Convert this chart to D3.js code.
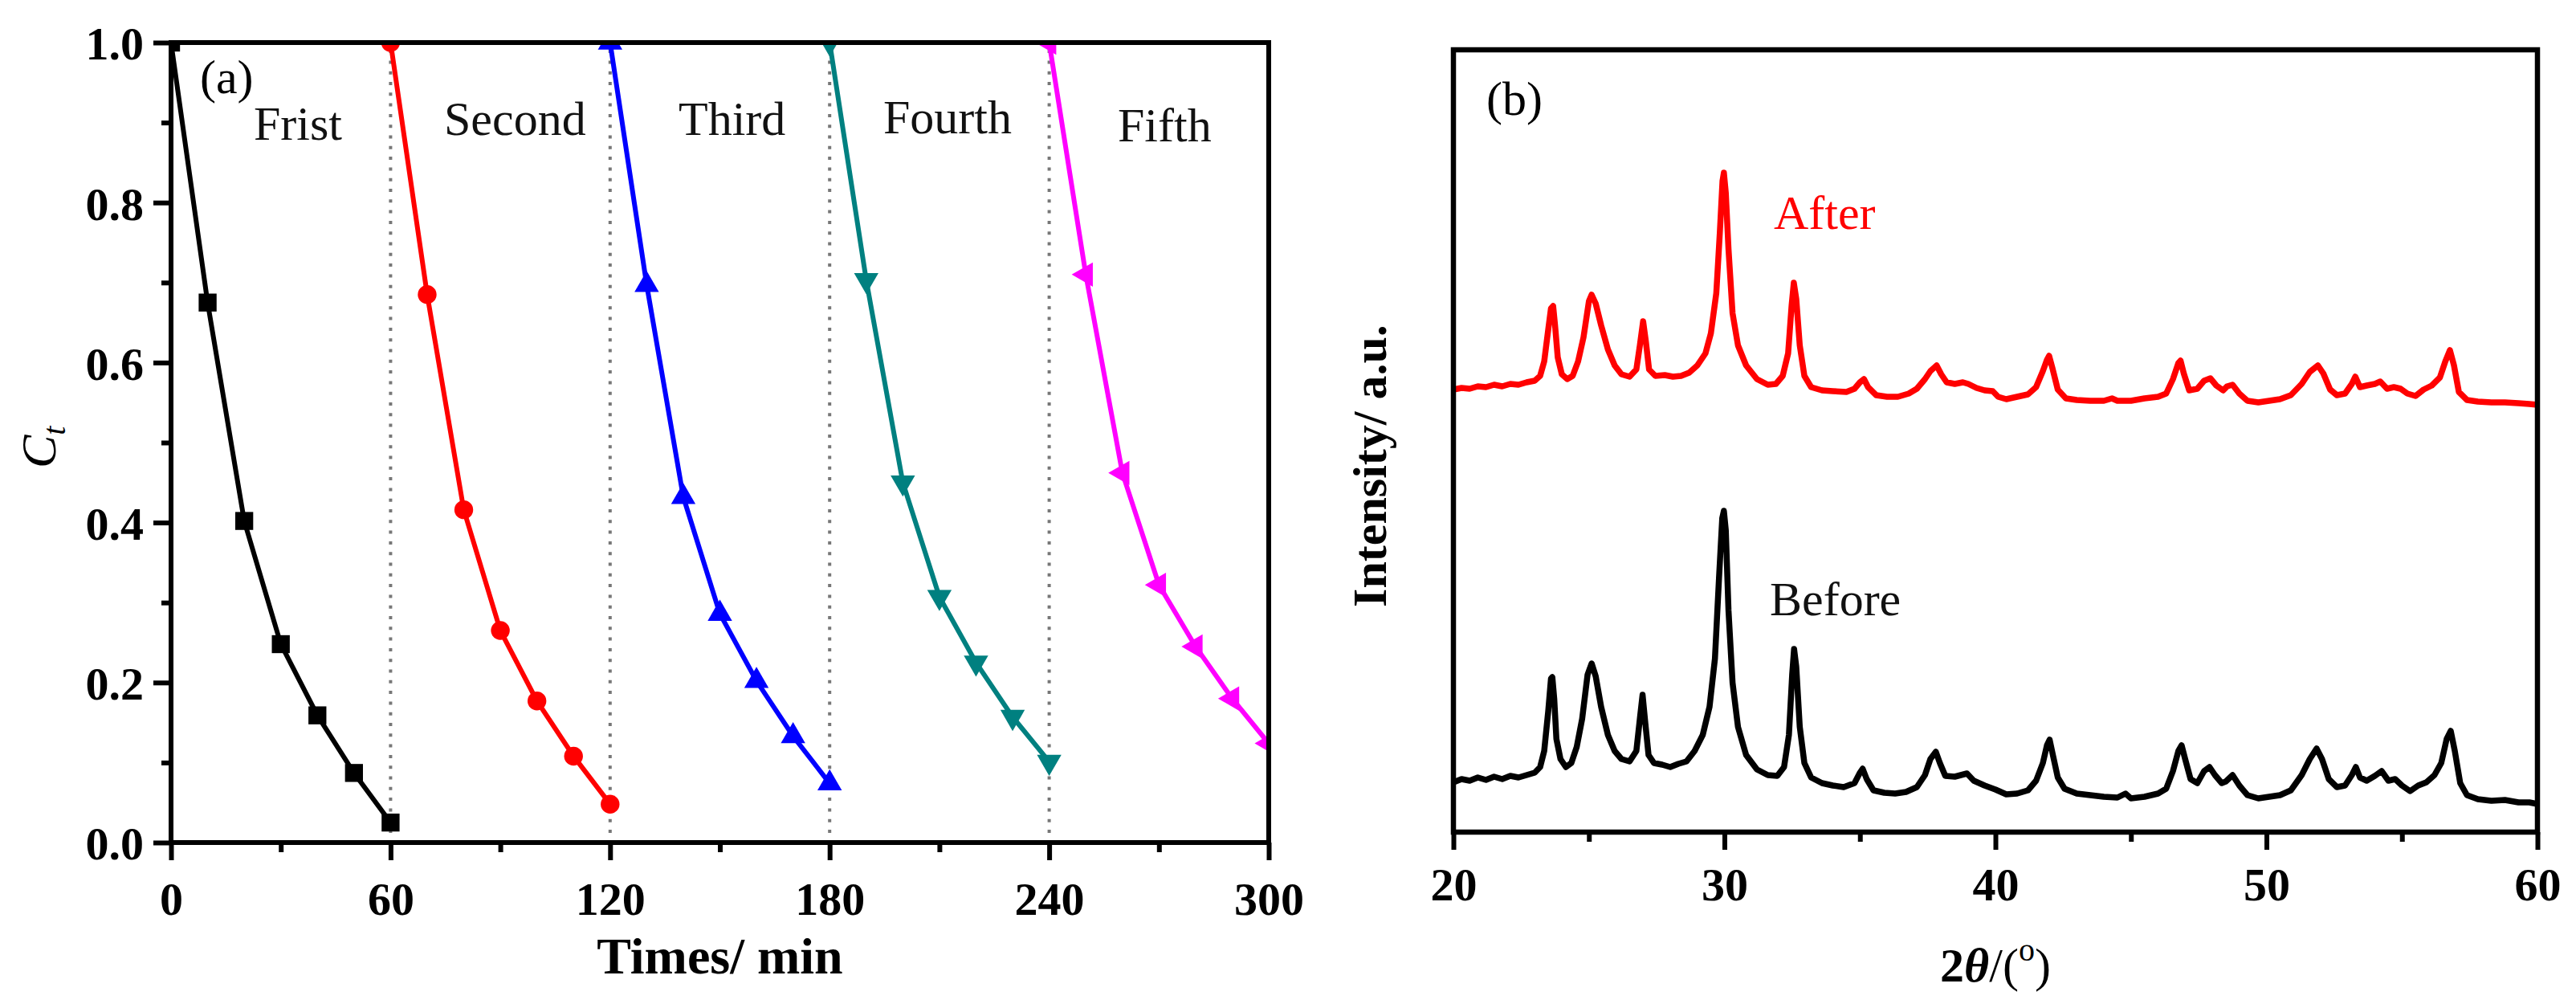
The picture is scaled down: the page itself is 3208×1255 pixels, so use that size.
<!DOCTYPE html>
<html>
<head>
<meta charset="utf-8">
<script src="https://cdn.jsdelivr.net/npm/d3@7"></script>
<style>
  body { margin: 0; background: #fff; }
  text { font-family: "Times New Roman", "Liberation Serif", serif; }
</style>
</head>
<body>
<script>
// (a) five photocatalytic cycles, Ct vs time
var time1 = [0, 10, 20, 30, 40, 50, 60];
var time2 = [60, 70, 80, 90, 100, 110, 120];
var time3 = [120, 130, 140, 150, 160, 170, 180];
var time4 = [180, 190, 200, 210, 220, 230, 240];
var time5 = [240, 250, 260, 270, 280, 290, 300];

var first  = [1.0, 0.675, 0.402, 0.248, 0.159, 0.087, 0.025];
var second = [1.0, 0.685, 0.416, 0.265, 0.177, 0.108, 0.048];
var third  = [1.0, 0.697, 0.432, 0.286, 0.202, 0.133, 0.074];
var fourth = [1.0, 0.703, 0.450, 0.307, 0.225, 0.157, 0.101];
var fifth  = [1.0, 0.710, 0.462, 0.322, 0.245, 0.180, 0.124];

var runNames = ["Frist", "Second", "Third", "Fourth", "Fifth"];
var runBreaks = [60, 120, 180, 240];

var xTicksA = [0, 60, 120, 180, 240, 300];
var xMinorA = [30, 90, 150, 210, 270];
var yTicksA = [0.0, 0.2, 0.4, 0.6, 0.8, 1.0];
var yMinorA = [0.1, 0.3, 0.5, 0.7, 0.9];

// (b) XRD before / after, [2theta, intensity a.u.]
var beforeXRD = [
  [20.0,62],[20.3,66],[20.6,64],[20.9,68],[21.2,65],[21.5,69],[21.8,66],[22.1,70],[22.4,68],[22.7,71],
  [23.0,74],[23.2,81],[23.35,101],[23.5,151],[23.6,191],[23.65,193],[23.72,166],[23.8,116],[23.95,91],[24.15,81],
  [24.35,86],[24.55,106],[24.75,141],[24.95,196],[25.1,210],[25.25,194],[25.45,156],[25.7,121],[25.95,101],[26.2,91],
  [26.5,88],[26.75,101],[26.88,141],[26.98,171],[27.08,136],[27.2,96],[27.4,86],[27.7,84],[28.0,81],[28.3,85],
  [28.6,88],[28.9,101],[29.2,121],[29.45,156],[29.65,216],[29.8,316],[29.92,391],[29.98,400],[30.05,376],[30.15,276],
  [30.3,186],[30.5,131],[30.8,96],[31.2,78],[31.6,71],[31.95,70],[32.2,81],[32.38,121],[32.5,196],[32.57,228],
  [32.65,206],[32.78,131],[32.95,86],[33.2,68],[33.6,61],[34.0,58],[34.4,56],[34.8,61],[35.0,74],[35.1,79],
  [35.25,66],[35.5,52],[35.9,49],[36.3,48],[36.7,50],[37.1,56],[37.4,71],[37.6,91],[37.8,100],[37.95,86],
  [38.15,70],[38.5,69],[38.95,73],[39.2,64],[39.6,58],[40.0,53],[40.4,47],[40.8,48],[41.2,52],[41.5,64],
  [41.75,86],[41.9,108],[42.0,115],[42.12,96],[42.3,68],[42.55,54],[43.0,48],[43.5,46],[44.0,44],[44.5,43],
  [44.8,48],[45.0,42],[45.5,44],[46.0,48],[46.3,54],[46.55,76],[46.75,101],[46.87,108],[47.0,91],[47.2,66],
  [47.45,61],[47.7,76],[47.9,81],[48.1,71],[48.35,61],[48.5,63],[48.75,71],[49.0,58],[49.3,46],[49.7,42],
  [50.1,44],[50.5,46],[50.9,52],[51.3,71],[51.6,91],[51.85,104],[52.05,91],[52.3,66],[52.6,56],[52.9,58],
  [53.15,71],[53.3,81],[53.45,68],[53.7,64],[54.0,70],[54.25,76],[54.5,64],[54.75,66],[55.0,58],[55.3,51],
  [55.6,58],[55.9,62],[56.2,71],[56.45,86],[56.65,116],[56.8,126],[56.95,101],[57.15,61],[57.4,46],[57.8,41],
  [58.3,39],[58.8,40],[59.3,37],[59.7,37],[60.0,35]
];

var afterXRD = [
  [20.0,551],[20.3,553],[20.6,552],[20.9,555],[21.2,554],[21.5,557],[21.8,555],[22.1,558],[22.4,557],[22.7,560],
  [23.0,562],[23.2,568],[23.35,586],[23.5,626],[23.6,652],[23.68,655],[23.75,631],[23.85,591],[24.0,570],[24.2,564],
  [24.4,568],[24.6,586],[24.8,616],[25.0,661],[25.1,669],[25.25,658],[25.45,631],[25.7,601],[25.95,581],[26.2,570],
  [26.5,567],[26.75,576],[26.88,606],[27.0,636],[27.1,611],[27.22,576],[27.45,568],[27.8,569],[28.1,567],[28.4,568],
  [28.7,572],[29.0,581],[29.3,596],[29.5,621],[29.7,671],[29.83,746],[29.93,811],[29.98,821],[30.05,796],[30.15,726],
  [30.3,646],[30.5,606],[30.8,581],[31.2,564],[31.6,557],[31.9,558],[32.15,568],[32.35,596],[32.48,656],[32.56,684],
  [32.65,664],[32.78,606],[32.95,568],[33.2,554],[33.6,550],[34.0,549],[34.5,548],[34.8,552],[35.0,560],[35.15,564],
  [35.3,554],[35.6,544],[36.0,542],[36.4,542],[36.8,546],[37.1,552],[37.4,564],[37.6,574],[37.83,581],[38.0,570],
  [38.2,560],[38.5,558],[38.8,560],[39.0,558],[39.3,553],[39.6,550],[39.9,549],[40.1,542],[40.4,539],[40.8,542],
  [41.2,545],[41.5,554],[41.75,574],[41.9,588],[41.98,593],[42.1,578],[42.3,551],[42.6,540],[43.0,538],[43.5,537],
  [44.0,537],[44.3,540],[44.5,537],[45.0,537],[45.5,540],[46.0,542],[46.3,546],[46.55,564],[46.75,584],[46.83,587],
  [46.95,571],[47.15,550],[47.45,552],[47.7,562],[47.93,565],[48.15,556],[48.4,550],[48.55,555],[48.75,557],[49.0,546],
  [49.3,537],[49.7,535],[50.1,537],[50.5,539],[50.9,544],[51.3,558],[51.6,573],[51.9,581],[52.1,571],[52.35,551],
  [52.6,544],[52.9,546],[53.15,558],[53.28,567],[53.45,554],[53.7,556],[54.0,558],[54.2,561],[54.45,552],[54.7,554],
  [54.95,552],[55.2,546],[55.5,543],[55.8,551],[56.1,556],[56.4,566],[56.6,586],[56.77,600],[56.92,581],[57.1,548],
  [57.4,538],[57.8,536],[58.3,535],[58.8,535],[59.3,534],[59.7,533],[60.0,532]
];

var xTicksB = [20, 30, 40, 50, 60];
var xMinorB = [25, 35, 45, 55];

// styles
var runColors = ["#000000", "#ff0000", "#0000ff", "#008080", "#ff00ff"];
var serif = '"Times New Roman", "Liberation Serif", serif';

var svg = d3.select("body")
    .append("svg")
    .attr("width", 3208)
    .attr("height", 1255)
    .style("display", "block")
    .style("background", "#fff");

// ---------- panel (a) ----------
var xA = d3.scaleLinear().domain([0, 300]).range([213, 1580]);
var yA = d3.scaleLinear().domain([0, 1]).range([1049, 53]);

svg.append("clipPath").attr("id", "clipA")
  .append("rect")
    .attr("x", xA(0)).attr("y", yA(1))
    .attr("width", xA(300) - xA(0))
    .attr("height", yA(0) - yA(1));

// dotted separators between cycles
svg.append("g").selectAll("line")
  .data(runBreaks)
  .enter().append("line")
    .attr("x1", function(d) { return xA(d); })
    .attr("x2", function(d) { return xA(d); })
    .attr("y1", yA(0) - 12)
    .attr("y2", yA(1))
    .attr("stroke", "#777")
    .attr("stroke-width", 4)
    .attr("stroke-dasharray", "4,9.3");

var runs = [
  d3.zip(time1, first),
  d3.zip(time2, second),
  d3.zip(time3, third),
  d3.zip(time4, fourth),
  d3.zip(time5, fifth)
];

var lineA = d3.line()
    .x(function(d) { return xA(d[0]); })
    .y(function(d) { return yA(d[1]); });

var symbols = [
  d3.symbol().type(d3.symbolSquare).size(500),
  d3.symbol().type(d3.symbolCircle).size(430),
  d3.symbol().type(d3.symbolTriangle).size(400),
  d3.symbol().type(d3.symbolTriangle).size(400),
  d3.symbol().type(d3.symbolTriangle).size(400)
];
var symRotate = [0, 0, 0, 180, -90];

var plotA = svg.append("g").attr("clip-path", "url(#clipA)");

runs.forEach(function(run, i) {
  plotA.append("path")
    .datum(run)
    .attr("d", lineA)
    .attr("fill", "none")
    .attr("stroke", runColors[i])
    .attr("stroke-width", 6);

  plotA.append("g").selectAll("path")
    .data(run)
    .enter().append("path")
      .attr("d", symbols[i])
      .attr("transform", function(d) {
        return "translate(" + xA(d[0]) + "," + yA(d[1]) + ") rotate(" + symRotate[i] + ")";
      })
      .attr("fill", runColors[i]);
});

// axes (a)
function styleAxis(g, size) {
  g.select(".domain").remove();
  g.selectAll(".tick line").attr("stroke", "#000").attr("stroke-width", 6);
  g.selectAll("text")
    .attr("font-family", serif)
    .attr("font-size", size)
    .attr("font-weight", "bold")
    .attr("fill", "#000");
}

svg.append("g")
  .attr("transform", "translate(0," + yA(0) + ")")
  .call(d3.axisBottom(xA).tickValues(xTicksA).tickSize(22).tickSizeOuter(0).tickPadding(27))
  .call(styleAxis, 58);
svg.append("g")
  .attr("transform", "translate(0," + yA(0) + ")")
  .call(d3.axisBottom(xA).tickValues(xMinorA).tickSize(12).tickSizeOuter(0).tickFormat(""))
  .call(styleAxis, 58);

var yAxisA = svg.append("g")
  .attr("transform", "translate(" + xA(0) + ",0)")
  .call(d3.axisLeft(yA).tickValues(yTicksA).tickSize(22).tickSizeOuter(0).tickPadding(12).tickFormat(d3.format(".1f")))
  .call(styleAxis, 58);
yAxisA.selectAll("text").attr("dy", "0.36em");
svg.append("g")
  .attr("transform", "translate(" + xA(0) + ",0)")
  .call(d3.axisLeft(yA).tickValues(yMinorA).tickSize(12).tickSizeOuter(0).tickFormat(""))
  .call(styleAxis, 58);

svg.append("rect")
  .attr("x", xA(0)).attr("y", yA(1))
  .attr("width", xA(300) - xA(0))
  .attr("height", yA(0) - yA(1))
  .attr("fill", "none")
  .attr("stroke", "#000")
  .attr("stroke-width", 6);

// labels (a)
svg.append("text")
  .attr("x", 249).attr("y", 116)
  .attr("font-size", 60)
  .text("(a)");

var runLabelX = [316, 553, 845, 1100, 1392];
var runLabelY = [174, 168, 168, 166, 176];
svg.append("g").selectAll("text")
  .data(runNames)
  .enter().append("text")
    .attr("x", function(d, i) { return runLabelX[i]; })
    .attr("y", function(d, i) { return runLabelY[i]; })
    .attr("font-size", 60)
    .attr("fill", "#111")
    .text(function(d) { return d; });

svg.append("text")
  .attr("x", (xA(0) + xA(300)) / 2)
  .attr("y", 1212)
  .attr("text-anchor", "middle")
  .attr("font-size", 64)
  .attr("font-weight", "bold")
  .text("Times/ min");

var ct = svg.append("text")
  .attr("transform", "translate(69,583) rotate(-90)")
  .attr("font-size", 62)
  .attr("font-style", "italic");
ct.append("tspan").text("C");
ct.append("tspan").attr("font-size", 40).attr("dy", 12).text("t");

// ---------- panel (b) ----------
var xB = d3.scaleLinear().domain([20, 60]).range([1810, 3160]);
var yB = d3.scaleLinear().domain([0, 974]).range([1036, 62]);

var lineB = d3.line()
    .x(function(d) { return xB(d[0]); })
    .y(function(d) { return yB(d[1]); });

svg.append("path")
  .datum(beforeXRD)
  .attr("d", lineB)
  .attr("fill", "none")
  .attr("stroke", "#000")
  .attr("stroke-width", 7.5)
  .attr("stroke-linejoin", "round");

svg.append("path")
  .datum(afterXRD)
  .attr("d", lineB)
  .attr("fill", "none")
  .attr("stroke", "#ff0000")
  .attr("stroke-width", 7.5)
  .attr("stroke-linejoin", "round");

svg.append("g")
  .attr("transform", "translate(0," + yB(0) + ")")
  .call(d3.axisBottom(xB).tickValues(xTicksB).tickSize(22).tickSizeOuter(0).tickPadding(22))
  .call(styleAxis, 58);
svg.append("g")
  .attr("transform", "translate(0," + yB(0) + ")")
  .call(d3.axisBottom(xB).tickValues(xMinorB).tickSize(12).tickSizeOuter(0).tickFormat(""))
  .call(styleAxis, 58);

svg.append("rect")
  .attr("x", xB(20)).attr("y", yB(974))
  .attr("width", xB(60) - xB(20))
  .attr("height", yB(0) - yB(974))
  .attr("fill", "none")
  .attr("stroke", "#000")
  .attr("stroke-width", 6.5);

// labels (b)
svg.append("text")
  .attr("x", 1851).attr("y", 143)
  .attr("font-size", 60)
  .text("(b)");

svg.append("text")
  .attr("x", 2209).attr("y", 285)
  .attr("font-size", 60)
  .attr("fill", "#ff0000")
  .text("After");

svg.append("text")
  .attr("x", 2204).attr("y", 766)
  .attr("font-size", 60)
  .attr("fill", "#111")
  .text("Before");

svg.append("text")
  .attr("transform", "translate(1726,580) rotate(-90)")
  .attr("text-anchor", "middle")
  .attr("font-size", 60)
  .attr("font-weight", "bold")
  .text("Intensity/ a.u.");

var tt = svg.append("text")
  .attr("x", (xB(20) + xB(60)) / 2)
  .attr("y", 1222)
  .attr("text-anchor", "middle")
  .attr("font-size", 60);
tt.append("tspan").attr("font-weight", "bold").text("2");
tt.append("tspan").attr("font-weight", "bold").attr("font-style", "italic").text("θ");
tt.append("tspan").text("/(");
tt.append("tspan").attr("font-size", 40).attr("dy", -26).text("o");
tt.append("tspan").attr("dy", 26).text(")");
</script>
</body>
</html>
